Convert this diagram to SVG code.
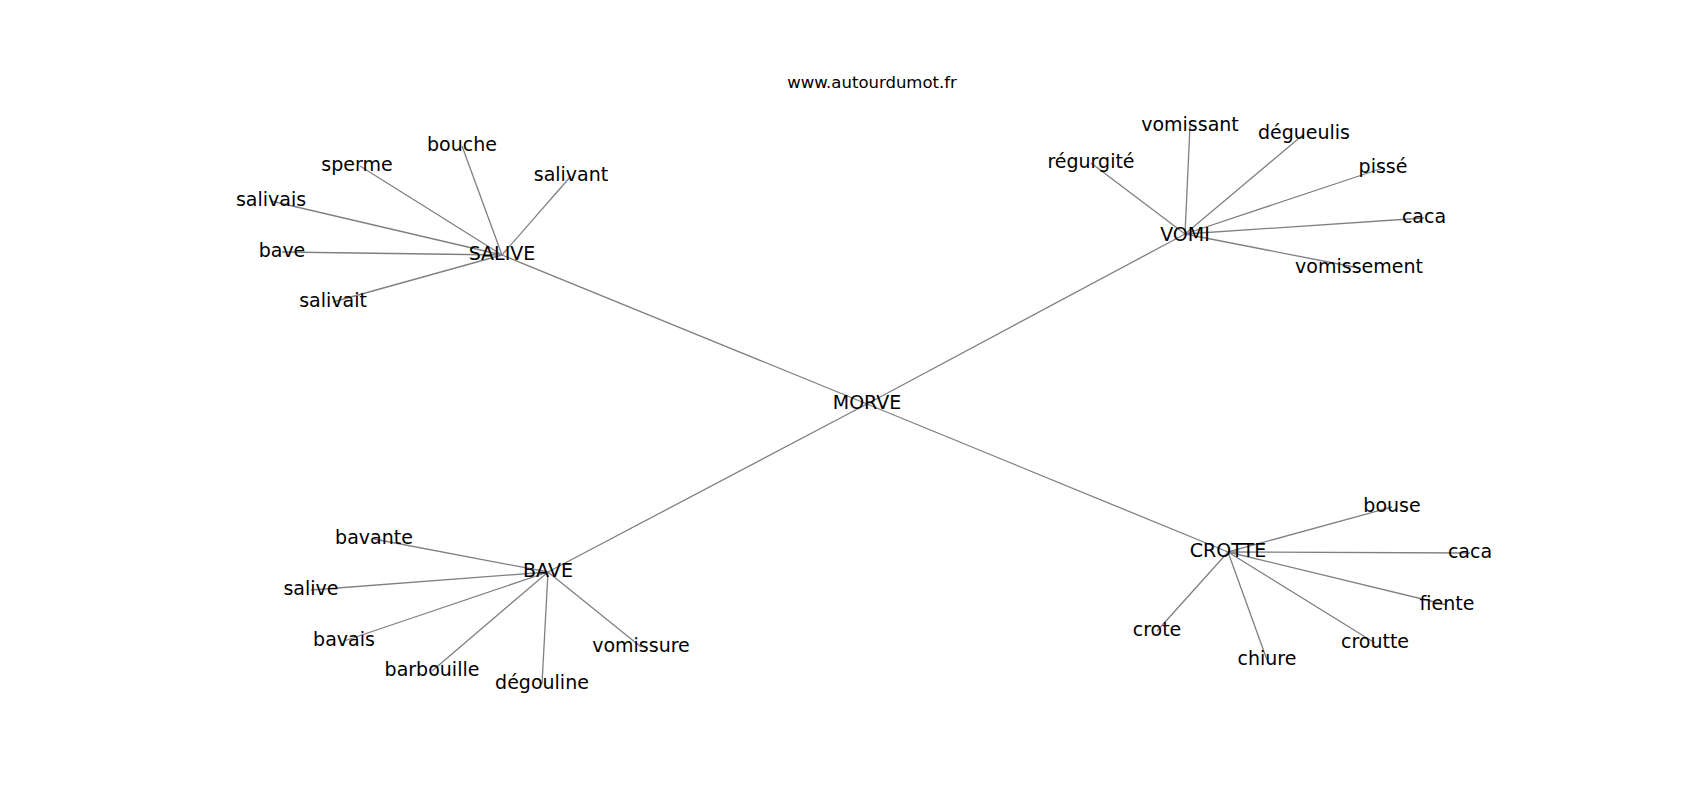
<svg xmlns="http://www.w3.org/2000/svg" width="1700" height="800" viewBox="0 0 1700 800">
<style>
.e{stroke:#808080;stroke-width:1.3;fill:none}
.n text{font-family:"DejaVu Sans",sans-serif;font-size:19px;fill:#000;text-anchor:middle}
.t{font-family:"DejaVu Sans",sans-serif;font-size:16.5px;fill:#000;text-anchor:middle}
</style>
<rect width="1700" height="800" fill="#fff"/>
<text class="t" x="872" y="88">www.autourdumot.fr</text>
<g id="edges">
<line class="e" x1="867" y1="404" x2="502" y2="255"/>
<line class="e" x1="867" y1="404" x2="1185" y2="234"/>
<line class="e" x1="867" y1="404" x2="548" y2="572"/>
<line class="e" x1="867" y1="404" x2="1228" y2="552"/>
<line class="e" x1="502" y1="255" x2="462" y2="146"/>
<line class="e" x1="502" y1="255" x2="360" y2="166"/>
<line class="e" x1="502" y1="255" x2="571" y2="176"/>
<line class="e" x1="502" y1="255" x2="271" y2="201"/>
<line class="e" x1="502" y1="255" x2="282" y2="252"/>
<line class="e" x1="502" y1="255" x2="333" y2="302"/>
<line class="e" x1="1185" y1="234" x2="1190" y2="126"/>
<line class="e" x1="1185" y1="234" x2="1304" y2="134"/>
<line class="e" x1="1185" y1="234" x2="1091" y2="163"/>
<line class="e" x1="1185" y1="234" x2="1383" y2="168"/>
<line class="e" x1="1185" y1="234" x2="1424" y2="218"/>
<line class="e" x1="1185" y1="234" x2="1359" y2="268"/>
<line class="e" x1="548" y1="572" x2="374" y2="539"/>
<line class="e" x1="548" y1="572" x2="311" y2="590"/>
<line class="e" x1="548" y1="572" x2="344" y2="641"/>
<line class="e" x1="548" y1="572" x2="432" y2="671"/>
<line class="e" x1="548" y1="572" x2="542" y2="684"/>
<line class="e" x1="548" y1="572" x2="641" y2="647"/>
<line class="e" x1="1228" y1="552" x2="1392" y2="507"/>
<line class="e" x1="1228" y1="552" x2="1470" y2="553"/>
<line class="e" x1="1228" y1="552" x2="1447" y2="605"/>
<line class="e" x1="1228" y1="552" x2="1375" y2="643"/>
<line class="e" x1="1228" y1="552" x2="1267" y2="660"/>
<line class="e" x1="1228" y1="552" x2="1157" y2="631"/>
</g>
<g id="morve" class="n"><text x="867" y="409">MORVE</text></g>
<g id="salive_hub" class="n"><text x="502" y="260">SALIVE</text></g>
<g id="vomi_hub" class="n"><text x="1185" y="241">VOMI</text></g>
<g id="bave_hub" class="n"><text x="548" y="577">BAVE</text></g>
<g id="crotte_hub" class="n"><text x="1228" y="557">CROTTE</text></g>
<g id="bouche" class="n"><text x="462" y="151">bouche</text></g>
<g id="sperme" class="n"><text x="357" y="171">sperme</text></g>
<g id="salivant" class="n"><text x="571" y="181">salivant</text></g>
<g id="salivais" class="n"><text x="271" y="206">salivais</text></g>
<g id="bave" class="n"><text x="282" y="257">bave</text></g>
<g id="salivait" class="n"><text x="333" y="307">salivait</text></g>
<g id="vomissant" class="n"><text x="1190" y="131">vomissant</text></g>
<g id="degueulis" class="n"><text x="1304" y="139">dégueulis</text></g>
<g id="regurgite" class="n"><text x="1091" y="168">régurgité</text></g>
<g id="pisse" class="n"><text x="1383" y="173">pissé</text></g>
<g id="caca1" class="n"><text x="1424" y="223">caca</text></g>
<g id="vomissement" class="n"><text x="1359" y="273">vomissement</text></g>
<g id="bavante" class="n"><text x="374" y="544">bavante</text></g>
<g id="salive" class="n"><text x="311" y="595">salive</text></g>
<g id="bavais" class="n"><text x="344" y="646">bavais</text></g>
<g id="barbouille" class="n"><text x="432" y="676">barbouille</text></g>
<g id="degouline" class="n"><text x="542" y="689">dégouline</text></g>
<g id="vomissure" class="n"><text x="641" y="652">vomissure</text></g>
<g id="bouse" class="n"><text x="1392" y="512">bouse</text></g>
<g id="caca2" class="n"><text x="1470" y="558">caca</text></g>
<g id="fiente" class="n"><text x="1447" y="610">fiente</text></g>
<g id="croutte" class="n"><text x="1375" y="648">croutte</text></g>
<g id="chiure" class="n"><text x="1267" y="665">chiure</text></g>
<g id="crote" class="n"><text x="1157" y="636">crote</text></g>
</svg>
